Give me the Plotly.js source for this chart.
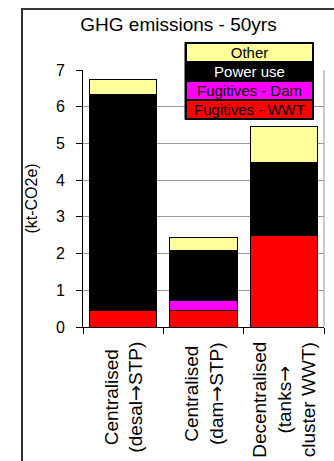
<!DOCTYPE html>
<html>
<head>
<meta charset="utf-8">
<script src="https://cdn.plot.ly/plotly-3.0.1.min.js"></script>
<style>html,body{margin:0;padding:0;background:#fff;}#chart{width:334px;height:461px;}</style>
</head>
<body>
<div id="chart"></div>
<script>
// ---- data ----
var categories = ['Centralised<br>(desal→STP)', 'Centralised<br>(dam→STP)', 'Decentralised<br>(tanks→<br>cluster WWT)'];
var seriesNames = ['Fugitives - WWT', 'Fugitives - Dam', 'Power use', 'Other'];
var fugitivesWWT = [0.44, 0.45, 2.50];
var fugitivesDam = [0, 0.27, 0];
var powerUse = [5.90, 1.36, 1.98];
var other = [0.41, 0.35, 0.97];
var chartTitle = 'GHG emissions - 50yrs';
var yTitle = '(kt-CO2e)';
var legendOrder = ['Other', 'Power use', 'Fugitives - Dam', 'Fugitives - WWT'];

// ---- styling ----
var colors = {'Fugitives - WWT': '#FF0000', 'Fugitives - Dam': '#FF00FF', 'Power use': '#000000', 'Other': '#FFFF99'};
var textColors = {'Fugitives - WWT': '#000000', 'Fugitives - Dam': '#000000', 'Power use': '#FFFFFF', 'Other': '#000000'};
var seriesValues = [fugitivesWWT, fugitivesDam, powerUse, other];

var W = 334, H = 461;
var M = {l: 83, r: 10, t: 70, b: 134};
var pw = W - M.l - M.r, ph = H - M.t - M.b;
function px2x(px) { return (px - M.l) / pw; }
function px2y(py) { return (H - M.b - py) / ph; }

var traces = seriesNames.map(function (n, i) {
  return {
    type: 'bar', name: n, x: categories, y: seriesValues[i],
    marker: {color: colors[n], line: {color: '#000', width: 1}},
    showlegend: false, hoverinfo: 'skip'
  };
});

var annotations = [];
// category labels (arrow drawn with a font that has a wide arrow glyph)
categories.forEach(function (c) {
  annotations.push({
    xref: 'x', yref: 'paper', x: c, y: px2y(340), xanchor: 'center', yanchor: 'top',
    text: c.replace('→', '<span style="font-family:DejaVu Sans">→</span>'),
    showarrow: false, textangle: -90, align: 'center',
    font: {family: 'Liberation Sans, Arial, sans-serif', size: 19, color: '#000'}
  });
});
// legend cells
var cellTops = [44, 62, 82, 101];
var cellH = [17, 18, 17, 17];
legendOrder.forEach(function (n, i) {
  annotations.push({
    xref: 'paper', yref: 'paper', x: px2x(187), y: px2y(cellTops[i]),
    xanchor: 'left', yanchor: 'top', width: 125, height: cellH[i],
    bgcolor: colors[n], borderpad: 0, borderwidth: 0, showarrow: false,
    text: n, align: 'center', valign: 'middle',
    font: {family: 'Liberation Sans, Arial, sans-serif', size: 15, color: textColors[n]}
  });
});

var shapes = [
  // outer chart frame
  {type: 'rect', xref: 'paper', yref: 'paper', x0: px2x(22), x1: px2x(345), y0: px2y(9), y1: px2y(480),
   line: {color: '#333', width: 2}, fillcolor: 'rgba(0,0,0,0)', layer: 'below'},
  // plot area right border
  {type: 'line', xref: 'paper', yref: 'paper', x0: 1, x1: 1, y0: 0, y1: 1, line: {color: '#999', width: 1}},
  // legend box
  {type: 'rect', xref: 'paper', yref: 'paper', x0: px2x(185), x1: px2x(313.5), y0: px2y(42.5), y1: px2y(119.5),
   line: {color: '#000', width: 1}, fillcolor: '#000', layer: 'above'}
];

var layout = {
  width: W, height: H, margin: M,
  paper_bgcolor: '#fff', plot_bgcolor: '#fff',
  font: {family: 'Liberation Sans, Arial, sans-serif', color: '#000'},
  barmode: 'stack', bargap: 0.16,
  title: {text: chartTitle, xref: 'container', x: 178.5 / W, y: 1 - 24.5 / H, yanchor: 'middle', xanchor: 'center',
          font: {size: 19, color: '#000'}},
  xaxis: {type: 'category', showline: true, linecolor: '#000', linewidth: 1, ticks: 'outside', ticklen: 6,
          tickcolor: '#000', tickson: 'boundaries', showticklabels: false, showgrid: false, fixedrange: true},
  yaxis: {range: [0, 7], dtick: 1, showline: true, linecolor: '#000', linewidth: 1, ticks: 'outside', ticklen: 6,
          tickcolor: '#000', gridcolor: '#999', zeroline: false, ticklabelstandoff: 8,
          tickfont: {size: 16}, title: {text: yTitle, font: {size: 16}, standoff: 14}, fixedrange: true},
  shapes: shapes, annotations: annotations, showlegend: false
};

Plotly.newPlot('chart', traces, layout, {displayModeBar: false, staticPlot: true});
</script>
</body>
</html>
